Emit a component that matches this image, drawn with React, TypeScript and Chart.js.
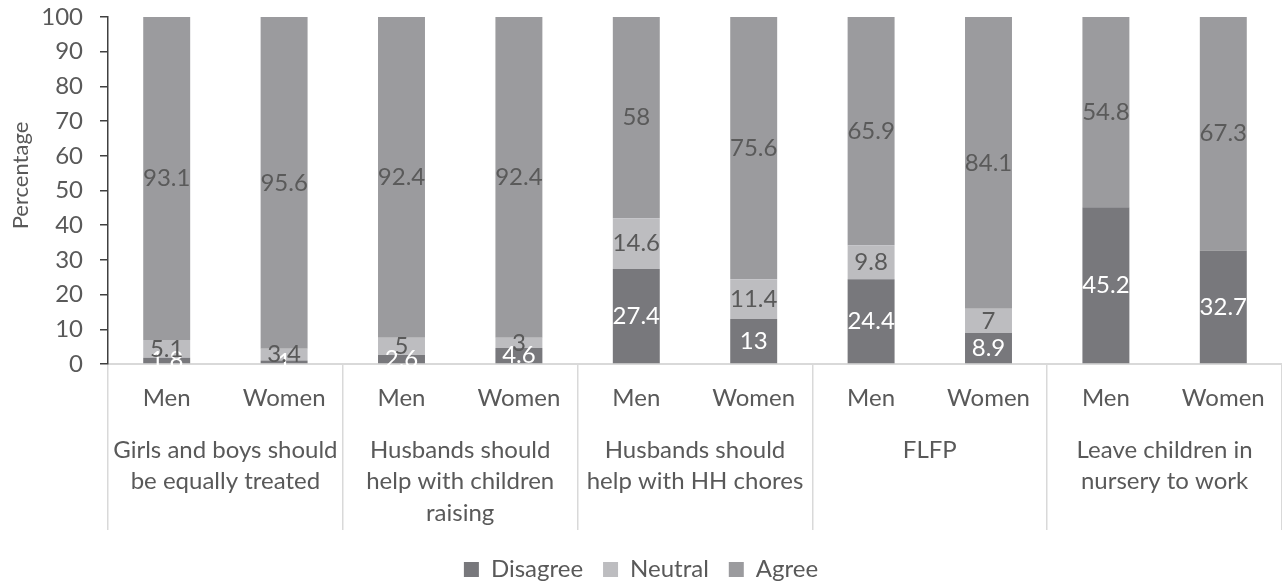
import React, { useEffect, useRef } from 'react';
import { Chart, registerables } from 'chart.js';

Chart.register(...registerables);

const subLabels = ['Men', 'Women', 'Men', 'Women', 'Men', 'Women', 'Men', 'Women', 'Men', 'Women'];
const groupLabels = [
  ['Girls and boys should', 'be equally treated'],
  ['Husbands should', 'help with children', 'raising'],
  ['Husbands should', 'help with HH chores'],
  ['FLFP'],
  ['Leave children in', 'nursery to work'],
];
const seriesNames = ['Disagree', 'Neutral', 'Agree'];
const disagree = [1.8, 1, 2.6, 4.6, 27.4, 13, 24.4, 8.9, 45.2, 32.7];
const neutral = [5.1, 3.4, 5, 3, 14.6, 11.4, 9.8, 7, 0, 0];
const agree = [93.1, 95.6, 92.4, 92.4, 58, 75.6, 65.9, 84.1, 54.8, 67.3];
const yTitle = 'Percentage';

const TEXT = '#595959';
const FONT = 'Lato';
const COLORS = ['#78787c', '#bdbdc0', '#9b9b9e'];
const LABEL_COLORS = ['#ffffff', '#595959', '#5a5a5a'];

export default function App() {
  const ref = useRef<HTMLCanvasElement>(null);

  useEffect(() => {
    document.body.style.margin = '0';
    const canvas = ref.current;
    if (!canvas) return;

    const valueLabels = {
      id: 'valueLabels',
      afterDatasetsDraw(chart: any) {
        const ctx = chart.ctx;
        ctx.save();
        ctx.font = `24px ${FONT}`;
        ctx.textAlign = 'center';
        ctx.textBaseline = 'middle';
        chart.data.datasets.forEach((ds: any, di: number) => {
          const meta = chart.getDatasetMeta(di);
          meta.data.forEach((el: any, i: number) => {
            const v = ds.data[i];
            if (!v) return;
            const p = el.getProps(['x', 'y', 'base'], true);
            ctx.fillStyle = LABEL_COLORS[di];
            ctx.fillText(String(v), p.x, (p.y + p.base) / 2);
          });
        });
        ctx.restore();
      },
    };

    const yTitlePlugin = {
      id: 'yTitlePlugin',
      afterDraw(chart: any) {
        const ctx = chart.ctx;
        const area = chart.chartArea;
        ctx.save();
        ctx.translate(21, (area.top + area.bottom) / 2 - 15);
        ctx.rotate(-Math.PI / 2);
        ctx.font = `22px ${FONT}`;
        ctx.fillStyle = TEXT;
        ctx.textAlign = 'center';
        ctx.textBaseline = 'middle';
        ctx.fillText(yTitle, 0, 0);
        ctx.restore();
      },
    };

    const series = [disagree, neutral, agree];

    const chart = new Chart(canvas, {
      type: 'bar',
      data: {
        labels: subLabels,
        datasets: series.map((d, i) => ({
          label: seriesNames[i],
          data: d,
          backgroundColor: COLORS[i],
          borderWidth: 0,
          xAxisID: 'x',
          yAxisID: 'y',
          barPercentage: 0.4,
          categoryPercentage: 1,
        })),
      },
      options: {
        responsive: false,
        animation: false,
        devicePixelRatio: 1,
        layout: { padding: { top: 17, bottom: -6.5, left: 0, right: 0 } },
        plugins: {
          tooltip: { enabled: false },
          legend: {
            position: 'bottom',
            labels: {
              color: TEXT,
              font: { size: 24, family: FONT },
              boxWidth: 15,
              boxHeight: 15,
              padding: 20,
            },
          },
        },
        scales: {
          x: {
            stacked: true,
            offset: true,
            grid: {
              offset: true,
              drawOnChartArea: false,
              drawTicks: true,
              tickLength: 166,
              lineWidth: 1.5,
              color: (c: any) => (c.index === undefined || c.index % 2 === 0 ? '#d9d9d9' : 'rgba(0,0,0,0)'),
            },
            border: { display: true, color: '#d9d9d9', width: 2 },
            ticks: {
              color: TEXT,
              font: { size: 24, family: FONT },
              padding: -146.4,
              autoSkip: false,
              maxRotation: 0,
              minRotation: 0,
            },
            afterFit: (s: any) => {
              s.height = 50;
            },
          },
          x2: {
            type: 'category',
            labels: groupLabels as any,
            position: 'bottom',
            offset: true,
            grid: { display: false, drawTicks: false, drawOnChartArea: false },
            border: { display: false },
            ticks: {
              color: TEXT,
              font: { size: 24, family: FONT, lineHeight: 1.3125 },
              padding: 20.25,
              autoSkip: false,
              maxRotation: 0,
              minRotation: 0,
            },
            afterFit: (s: any) => {
              s.height = 123.5;
            },
          },
          y: {
            stacked: true,
            min: 0,
            max: 100,
            ticks: {
              stepSize: 10,
              color: TEXT,
              font: { size: 24, family: FONT },
              padding: 17,
            },
            grid: {
              drawOnChartArea: false,
              drawTicks: true,
              tickLength: 8,
              color: '#404040',
              lineWidth: 1.5,
            },
            border: { display: true, color: '#404040', width: 1.5 },
            afterFit: (s: any) => {
              s.width = 108;
              s.paddingTop = 0;
              s.paddingBottom = 0;
            },
          },
        },
      } as any,
      plugins: [valueLabels, yTitlePlugin],
    });

    return () => chart.destroy();
  }, []);

  return (
    <canvas
      ref={ref}
      width={1282}
      height={585}
      style={{ display: 'block', width: 1282, height: 585 }}
    />
  );
}
